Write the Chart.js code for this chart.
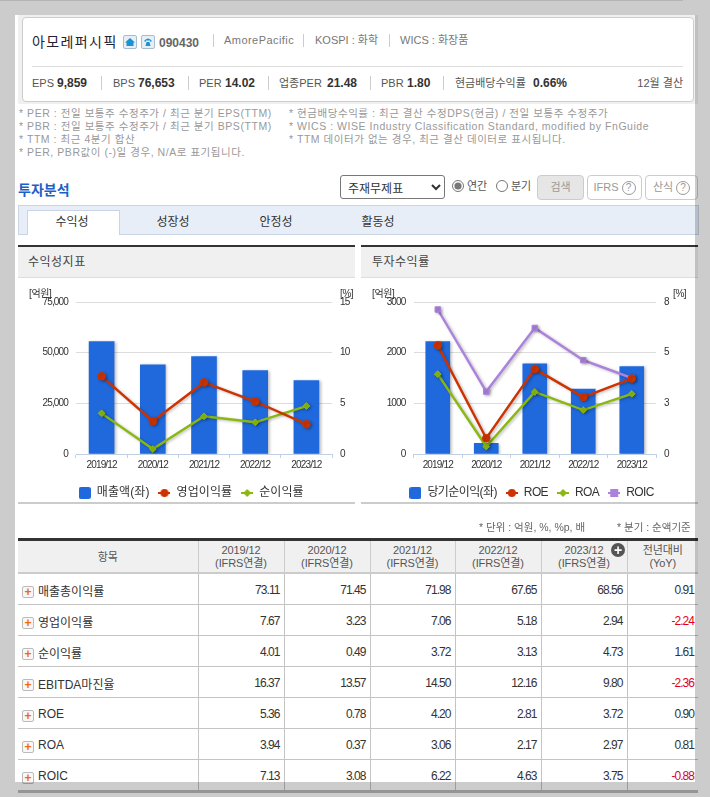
<!DOCTYPE html>
<html lang="ko">
<head>
<meta charset="utf-8">
<title>아모레퍼시픽 투자분석</title>
<script src="https://cdn.jsdelivr.net/npm/chart.js@4"></script>
<style>
html, body { margin: 0; padding: 0; background: #fff; }
body { width: 710px; height: 797px; overflow: hidden; position: relative; font-family: "Liberation Sans", "Noto Sans CJK KR", sans-serif; color: #333; font-size: 11px; }
.a { position: absolute; white-space: nowrap; line-height: 14px; }
.shade { position: absolute; background: rgba(0,0,0,.2); z-index: 10; }
.sep { position: absolute; width: 1px; background: #ccc; }
.ko { font-family: "Liberation Sans", "Noto Sans CJK KR", sans-serif; }
.note { color: #999; font-size: 10.5px; letter-spacing: .55px; }
.num { font-weight: bold; font-size: 12px; }
.wrap { position: absolute; left: 18px; top: 15px; width: 680px; height: 89px; background: #f0f0f0; }
.card { position: absolute; left: 22px; top: 17px; width: 670px; height: 83px; background: #fff; border: 1px solid #ccc; border-radius: 4px; box-sizing: content-box; }
.ico { position: absolute; top: 35px; width: 12px; height: 12px; border: 1px solid #a9bccd; border-radius: 2px; background: #e6eff6; color: #1b93d3; }
.btn { position: absolute; top: 175px; height: 23px; box-sizing: content-box; border: 1px solid #ccc; border-radius: 4px; text-align: center; line-height: 22px; color: #999; font-size: 11px; background: #fff; }
.q { display: inline-block; width: 12px; height: 12px; border: 1px solid #999; border-radius: 50%; font-size: 10px; line-height: 12px; margin-left: 3px; }
.tabbar { position: absolute; left: 18px; top: 205px; width: 679px; height: 28px; background: #e8eef8; border: 1px solid #c9d4e4; }
.tab { position: absolute; top: 215px; width: 80px; text-align: center; font-size: 12px; line-height: 14px; color: #333; }
.tab0 { position: absolute; left: 27px; top: 210px; width: 91px; height: 24px; background: #fff; border: 1px solid #c9d4e4; border-bottom: 0; }
.phead { position: absolute; top: 245px; height: 30px; background: #f0f0f0; border-top: 2px solid #333; border-bottom: 1px solid #ddd; }
.phead span { position: absolute; top: 8px; font-size: 12px; line-height: 14px; color: #444; letter-spacing: .5px; }
.pfoot { position: absolute; top: 502px; height: 2px; background: #ccc; }
canvas.ch { position: absolute; top: 280px; }
.unit { font-size: 10px; color: #333; letter-spacing: -.4px; }
table { position: absolute; left: 18px; top: 538px; width: 680px; border-collapse: collapse; table-layout: fixed; border-top: 3px solid #333; }
th { background: #f0f0f0; font-weight: normal; color: #555; font-size: 11px; line-height: 13px; height: 30px; padding: 1px 0 0; border-bottom: 2px solid #ccc; border-left: 1px solid #ccc; text-align: center; letter-spacing: -.1px; }
th:first-child, td:first-child { border-left: 0; }
td { height: 28px; padding: 2px 4px 0 0; text-align: right; border-bottom: 1px solid #c4c4c4; border-left: 1px solid #c4c4c4; font-size: 12px; letter-spacing: -.95px; color: #333; box-sizing: content-box; }
td:first-child { text-align: left; padding-left: 20px; letter-spacing: 0; color: #333; font-size: 12px; position: relative; }
td.neg { color: #e0001b; }
td:first-child i { position: absolute; left: 4px; top: 12px; width: 10px; height: 10px; border: 1px solid #bbb; border-radius: 2px; background: #f7f7f7; color: #f26b00; font: bold 12px/10px "Liberation Sans"; text-align: center; }
tr:last-child td { border-bottom: 3px solid #bbb; }
</style>
</head>
<body>
<div class="wrap"></div>
<div class="card"></div>
<div class="a ko" style="left:32px;top:35px;font-size:14px;letter-spacing:1.4px;color:#223;">아모레퍼시픽</div>
<div class="ico" style="left:123px;"><svg width="12" height="12" viewBox="0 0 12 12"><path d="M6 2 L11 6.5 H9.5 V10 H2.5 V6.5 H1 Z" fill="#1b93d3"/></svg></div>
<div class="ico" style="left:141px;"><svg width="12" height="12" viewBox="0 0 12 12"><path d="M2 5 Q6 0 10 5 L8.5 6 L8 4.5 H4 L3.5 6 Z M3.5 10 L4.5 6 H7.5 L8.5 10 Z" fill="#1b93d3"/></svg></div>
<div class="a" style="left:159px;top:36px;font-size:12px;font-weight:bold;color:#666;">090430</div>
<div class="sep" style="left:213px;top:34px;height:13px;"></div>
<div class="a" style="left:224px;top:33px;color:#777;letter-spacing:.45px;">AmorePacific</div>
<div class="sep" style="left:303px;top:34px;height:13px;"></div>
<div class="a" style="left:315px;top:33px;color:#777;">KOSPI : 화학</div>
<div class="sep" style="left:389px;top:34px;height:13px;"></div>
<div class="a" style="left:400px;top:33px;color:#777;">WICS : 화장품</div>
<div class="sep" style="left:32px;top:66px;width:651px;height:1px;background:#ddd;"></div>
<div id="stats"></div>

<div class="a note" style="left:19px;top:106px;">* PER : 전일 보통주 수정주가 / 최근 분기 EPS(TTM)</div>
<div class="a note" style="left:19px;top:119px;">* PBR : 전일 보통주 수정주가 / 최근 분기 BPS(TTM)</div>
<div class="a note" style="left:19px;top:132px;">* TTM : 최근 4분기 합산</div>
<div class="a note" style="left:19px;top:145px;">* PER, PBR값이 (-)일 경우, N/A로 표기됩니다.</div>
<div class="a note" style="left:289px;top:106px;">* 현금배당수익률 : 최근 결산 수정DPS(현금) / 전일 보통주 수정주가</div>
<div class="a note" style="left:289px;top:119px;">* WICS : WISE Industry Classification Standard, modified by FnGuide</div>
<div class="a note" style="left:289px;top:132px;">* TTM 데이터가 없는 경우, 최근 결산 데이터로 표시됩니다.</div>

<div class="a" style="left:18px;top:183px;font-size:14px;font-weight:bold;color:#1d5fc9;">투자분석</div>
<select style="position:absolute;left:340px;top:175px;width:105px;height:24px;font:12px 'Noto Sans CJK KR';color:#333;background:#fff;border:1px solid #777;border-radius:3px;padding-left:3px;"><option>주재무제표</option></select>
<input type="radio" name="p" checked style="position:absolute;left:452px;top:180px;margin:0;width:12px;height:12px;accent-color:#777;">
<div class="a" style="left:467px;top:179px;font-size:11px;color:#555;">연간</div>
<input type="radio" name="p" style="position:absolute;left:496px;top:180px;margin:0;width:12px;height:12px;">
<div class="a" style="left:511px;top:179px;font-size:11px;color:#555;">분기</div>
<div class="btn" style="left:537px;width:45px;background:#e6e6e6;">검색</div>
<div class="btn" style="left:587px;width:53px;">IFRS<span class="q">?</span></div>
<div class="btn" style="left:645px;width:51px;">산식<span class="q">?</span></div>

<div class="tabbar"></div>
<div class="tab0"></div>
<div class="tab" style="left:32px;">수익성</div>
<div class="tab" style="left:133px;">성장성</div>
<div class="tab" style="left:236px;">안정성</div>
<div class="tab" style="left:338px;">활동성</div>

<div class="phead" style="left:18px;width:337px;"><span style="left:10px;">수익성지표</span></div>
<div class="phead" style="left:361px;width:337px;"><span style="left:11px;">투자수익률</span></div>
<canvas class="ch" id="c1" width="337" height="230" style="left:18px;width:337px;height:230px;"></canvas>
<canvas class="ch" id="c2" width="335" height="230" style="left:361px;width:335px;height:230px;"></canvas>
<div class="a unit" style="left:29px;top:287px;">[억원]</div>
<div class="a unit" style="left:340px;top:287px;">[%]</div>
<div class="a unit" style="left:372px;top:287px;">[억원]</div>
<div class="a unit" style="left:673px;top:287px;">[%]</div>
<div class="pfoot" style="left:18px;width:337px;"></div>
<div class="pfoot" style="left:361px;width:337px;"></div>

<div class="a" style="left:479px;top:520px;font-size:10.5px;color:#666;">* 단위 : 억원, %, %p, 배</div>
<div class="a" style="left:617px;top:520px;font-size:10.5px;color:#666;">* 분기 : 순액기준</div>
<table id="tbl"></table>
<div style="position:absolute;left:611px;top:543px;width:14px;height:14px;border-radius:50%;background:#555;color:#fff;font:bold 14px/14px 'Liberation Sans';text-align:center;">+</div>

<div class="shade" style="left:0;top:0;width:710px;height:15px;"></div>
<div class="shade" style="left:0;top:782px;width:710px;height:15px;"></div>
<div class="shade" style="left:0;top:15px;width:15px;height:767px;"></div>
<div class="shade" style="left:695px;top:15px;width:15px;height:767px;"></div>
<div style="position:absolute;left:0;top:0;width:683px;height:1px;background:#b5b5b5;z-index:11;"></div>

<script>
const periods = ["2019/12", "2020/12", "2021/12", "2022/12", "2023/12"];
const sales = [55500, 44000, 48100, 41100, 36200];
const opMargin = [7.67, 3.23, 7.06, 5.18, 2.94];
const netMargin = [4.01, 0.49, 3.72, 3.13, 4.73];
const netIncome = [2220, 212, 1780, 1280, 1725];
const roe = [5.36, 0.78, 4.2, 2.81, 3.72];
const roa = [3.94, 0.37, 3.06, 2.17, 2.97];
const roic = [7.13, 3.08, 6.22, 4.63, 3.75];

const tableItems = ["매출총이익률", "영업이익률", "순이익률", "EBITDA마진율", "ROE", "ROA", "ROIC"];
const grossCol = ["73.11", "71.45", "71.98", "67.65", "68.56", "0.91"];
const opCol = ["7.67", "3.23", "7.06", "5.18", "2.94", "-2.24"];
const netCol = ["4.01", "0.49", "3.72", "3.13", "4.73", "1.61"];
const ebitdaCol = ["16.37", "13.57", "14.50", "12.16", "9.80", "-2.36"];
const roeCol = ["5.36", "0.78", "4.20", "2.81", "3.72", "0.90"];
const roaCol = ["3.94", "0.37", "3.06", "2.17", "2.97", "0.81"];
const roicCol = ["7.13", "3.08", "6.22", "4.63", "3.75", "-0.88"];

// label, value, label x, value x
const stats = [
  ["EPS", "9,859", 32, 57],
  ["BPS", "76,653", 113, 138],
  ["PER", "14.02", 199, 225],
  ["업종PER", "21.48", 279, 327],
  ["PBR", "1.80", 381, 407],
  ["현금배당수익률", "0.66%", 455, 533],
];
const statSeps = [101, 188, 268, 370, 443];

let html = "";
for (let s of stats) {
  html += '<div class="a" style="left:' + s[2] + 'px;top:76px;color:#555;">' + s[0] + "</div>";
  html += '<div class="a num" style="left:' + s[3] + 'px;top:76px;color:#333;">' + s[1] + "</div>";
}
for (let x of statSeps) html += '<div class="sep" style="left:' + x + 'px;top:76px;height:14px;"></div>';
html += '<div class="a" style="right:27px;top:76px;color:#555;">12월 결산</div>';
document.getElementById("stats").innerHTML = html;

let rows = [grossCol, opCol, netCol, ebitdaCol, roeCol, roaCol, roicCol];
let t = '<colgroup><col style="width:180px">';
for (let w of [86, 86, 85, 86, 86, 71]) t += '<col style="width:' + w + 'px">';
t += "</colgroup><tr><th>항목</th>";
for (let p of periods) t += "<th>" + p + "<br>(IFRS연결)</th>";
t += "<th>전년대비<br>(YoY)</th></tr>";
rows.forEach((r, i) => {
  t += "<tr><td><i>+</i>" + tableItems[i] + "</td>";
  r.forEach((v, j) => {
    t += "<td" + (j == 5 && v[0] == "-" ? ' class="neg"' : "") + ">" + v + "</td>";
  });
  t += "</tr>";
});
document.getElementById("tbl").innerHTML = t;

const BLUE = "#2069dc", RED = "#cc3300", GREEN = "#8ab80f", PURPLE = "#ab82dd";
const smallFont = { family: "'Liberation Sans'", size: 10 };

// legend icon: short line with the marker on it
function legendIcon(color, style) {
  let c = document.createElement("canvas");
  c.width = 12;
  c.height = 12;
  let g = c.getContext("2d");
  g.fillStyle = color;
  if (style == "bar") {
    g.beginPath();
    g.roundRect(0, 0, 12, 12, 2);
    g.fill();
    return c;
  }
  g.fillRect(0, 5, 12, 2);
  g.beginPath();
  if (style == "circle") g.arc(6, 6, 4, 0, Math.PI * 2);
  if (style == "rectRot") { g.moveTo(6, 2); g.lineTo(10, 6); g.lineTo(6, 10); g.lineTo(2, 6); }
  if (style == "rect") g.rect(2, 2, 8, 8);
  g.fill();
  return c;
}

const shadowPlugin = {
  id: "softShadow",
  beforeDatasetDraw(chart) {
    let g = chart.ctx;
    g.save();
    g.shadowColor = "rgba(0,0,0,0.28)";
    g.shadowBlur = 3;
    g.shadowOffsetX = 1.5;
    g.shadowOffsetY = 1;
  },
  afterDatasetDraw(chart) {
    chart.ctx.restore();
  },
};

// axis labels in the reference are squeezed, the legend less so
const squeezePlugin = {
  id: "squeeze",
  beforeDraw(chart, args, opts) {
    let g = chart.ctx;
    g.letterSpacing = "-0.85px";
    if (!chart.legend._wrapped) {
      let draw = chart.legend.draw;
      chart.legend.draw = function (area) {
        g.letterSpacing = opts.legend;
        draw.call(this, area);
        g.letterSpacing = "-0.85px";
      };
      chart.legend._wrapped = true;
    }
  },
};

function lineSet(label, data, color, style, size) {
  return {
    type: "line", label, data, yAxisID: "y2", order: 1,
    borderColor: color, backgroundColor: color, borderWidth: 2.4,
    pointStyle: style, pointRadius: size, pointBackgroundColor: color,
    pointBorderColor: color, pointBorderWidth: 1, tension: 0,
  };
}

function makeChart(id, barLabel, barData, lines, cfg) {
  return new Chart(document.getElementById(id), {
    data: {
      labels: periods,
      datasets: [
        { type: "bar", label: barLabel, data: barData, yAxisID: "y", order: 2, backgroundColor: BLUE, barThickness: cfg.barW },
      ].concat(lines),
    },
    plugins: [shadowPlugin, squeezePlugin],
    options: {
      responsive: false,
      animation: false,
      layout: { padding: { left: cfg.padLeft, right: 0, top: 22, bottom: 1 } },
      plugins: {
        squeeze: { legend: cfg.legendSpacing },
        tooltip: { enabled: false },
        legend: {
          position: "bottom",
          labels: {
            usePointStyle: true,
            pointStyleWidth: 12,
            padding: 9,
            color: "#333",
            font: { family: "'Liberation Sans', 'Noto Sans CJK KR'", size: 12 },
            sort: (a, b) => a.datasetIndex - b.datasetIndex,
            generateLabels(chart) {
              let items = Chart.defaults.plugins.legend.labels.generateLabels(chart);
              for (let it of items) {
                let ds = chart.data.datasets[it.datasetIndex];
                it.pointStyle = legendIcon(ds.backgroundColor, ds.type == "bar" ? "bar" : ds.pointStyle);
              }
              return items;
            },
          },
        },
      },
      scales: {
        x: {
          grid: { drawOnChartArea: false, color: "#c0d0e4", tickLength: 4 },
          border: { color: "#c0d0e4" },
          ticks: { color: "#333", font: smallFont, padding: 1, maxRotation: 0 },
          afterFit(s) { s.height = 24; },
        },
        y: {
          min: 0, max: cfg.leftMax, position: "left",
          ticks: { stepSize: cfg.leftStep, color: "#333", font: smallFont, padding: 8, callback: cfg.leftFmt },
          grid: { color: "#dcdcdc", drawTicks: false },
          border: { display: false },
          afterFit(s) { s.width = cfg.leftW; },
        },
        y2: {
          min: 0, max: cfg.rightMax, position: "right",
          ticks: { stepSize: cfg.rightStep, color: "#333", font: smallFont, padding: 8, callback: (v) => Math.round(v) },
          grid: { drawOnChartArea: false, drawTicks: false },
          border: { display: false },
          afterFit(s) { s.width = cfg.rightW; },
        },
      },
    },
  });
}

makeChart("c1", "매출액(좌)", sales, [
  lineSet("영업이익률", opMargin, RED, "circle", 3.8),
  lineSet("순이익률", netMargin, GREEN, "rectRot", 3.4),
], { barW: 25, padLeft: 8, leftW: 50, rightW: 23, legendSpacing: "0.1px", leftMax: 75000, leftStep: 25000, rightMax: 15, rightStep: 5, leftFmt: (v) => v.toLocaleString("en-US") });

makeChart("c2", "당기순이익(좌)", netIncome, [
  lineSet("ROE", roe, RED, "circle", 3.8),
  lineSet("ROA", roa, GREEN, "rectRot", 3.4),
  lineSet("ROIC", roic, PURPLE, "rect", 3.8),
], { barW: 24, padLeft: 17, leftW: 35.5, rightW: 40, legendSpacing: "-0.6px", leftMax: 3000, leftStep: 1000, rightMax: 7.5, rightStep: 2.5, leftFmt: (v) => String(v) });
</script>
</body>
</html>
